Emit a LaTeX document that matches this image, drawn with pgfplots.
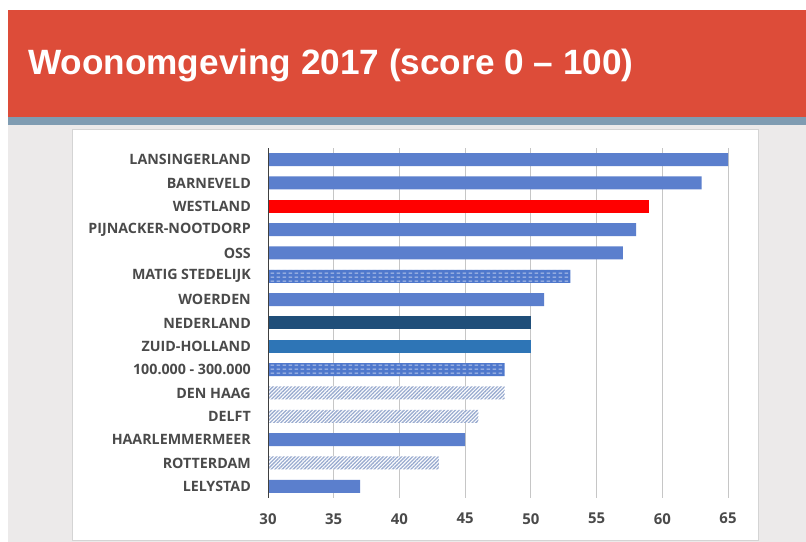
\documentclass[border=0pt]{standalone}
\usepackage{fontspec}
\setmainfont{Open Sans}
\newfontfamily\titlefont{Liberation Sans}
\usepackage{pgfplots}
\pgfplotsset{compat=1.18}
\usetikzlibrary{patterns,patterns.meta}
\definecolor{banner}{HTML}{DD4C39}
\definecolor{strip}{HTML}{7F9CB2}
\definecolor{bgg}{HTML}{ECEAEA}
\definecolor{panelb}{HTML}{D4D4D4}
\definecolor{barblue}{HTML}{5B7FCD}
\definecolor{dashblue}{HTML}{4F78CC}
\definecolor{navy}{HTML}{1F4E79}
\definecolor{midblue}{HTML}{2E75B6}
\definecolor{hatchc}{HTML}{9AACD0}
\definecolor{lab}{HTML}{4A4A4A}
\pgfdeclarepatternformonly{bardash}{\pgfqpoint{0bp}{0bp}}{\pgfqpoint{6bp}{4.3bp}}{\pgfqpoint{6bp}{4.3bp}}{%
  \pgfpathrectangle{\pgfqpoint{0.8bp}{1.5bp}}{\pgfqpoint{4bp}{1.3bp}}\pgfusepath{fill}}
\begin{document}
\begin{tikzpicture}[x=1bp,y=1bp]
\path[use as bounding box] (0,0) rectangle (806,542);
\fill[white] (0,0) rectangle (806,542);
\fill[banner] (8,425) rectangle (806,532);
\fill[strip] (8,417) rectangle (806,425);
\fill[bgg] (8,0) rectangle (806,417);
\filldraw[fill=white, draw=panelb, line width=0.8bp] (72,2) rectangle (758,413);
\node[anchor=base west, inner sep=0pt, text=white, font=\titlefont\bfseries\fontsize{35.3}{40}\selectfont] at (28,467) {Woonomgeving 2017 (score 0 – 100)};
\begin{axis}[
  at={(268bp,44bp)}, anchor=south west,
  scale only axis, width=460bp, height=350bp,
  xmin=30, xmax=65, ymin=-0.5, ymax=14.5,
  xbar, bar width=13bp, bar shift=0pt,
  xtick={30,35,...,65},
  ytick={0,...,14},
  yticklabels={LELYSTAD,ROTTERDAM,HAARLEMMERMEER,DELFT,DEN HAAG,100.000 - 300.000,ZUID-HOLLAND,NEDERLAND,WOERDEN,MATIG STEDELIJK,OSS,PIJNACKER-NOOTDORP,WESTLAND,BARNEVELD,LANSINGERLAND},
  axis line style={draw=none},
  major tick length=0pt, tick style={draw=none},
  xmajorgrids, grid style={draw=gray!45, line width=1bp},
  /pgf/number format/assume math mode=true,
  yticklabel style={font=\bfseries\fontsize{14.3}{16}\selectfont, text=lab, anchor=east, inner sep=0pt},
  yticklabel shift=17bp,
  xticklabel style={font=\bfseries\fontsize{15}{16}\selectfont, text=lab, anchor=north, inner sep=0pt},
  xticklabel shift=15bp,
]
\addplot[fill=barblue, draw=none] coordinates {(65,14) (63,13) (58,11) (57,10) (51,8) (45,2) (37,0)};
\addplot[fill=red, draw=none] coordinates {(59,12)};
\addplot[fill=dashblue, draw=none, postaction={pattern=bardash, pattern color=white!60!dashblue}] coordinates {(53,9) (48,5)};
\addplot[fill=navy, draw=none] coordinates {(50,7)};
\addplot[fill=midblue, draw=none] coordinates {(50,6)};
\addplot[fill=white, draw=none, postaction={pattern={Lines[angle=45, distance=2.6bp, line width=1.3bp]}, pattern color=hatchc}] coordinates {(48,4) (46,3) (43,1)};
\draw[draw=black!75, line width=1.5bp] (axis cs:30,-0.5) -- (axis cs:30,14.5);
\end{axis}
\end{tikzpicture}
\end{document}
